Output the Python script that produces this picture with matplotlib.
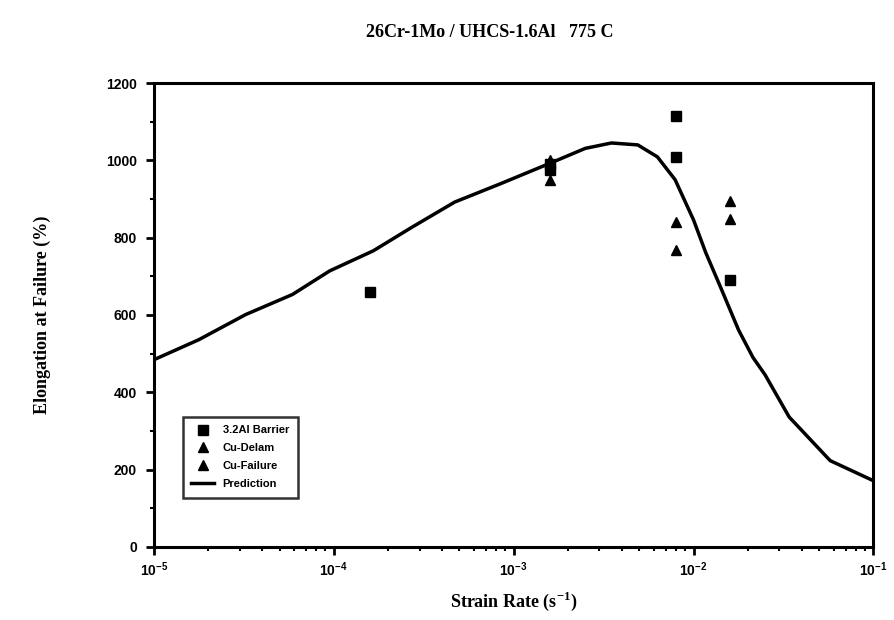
import matplotlib.pyplot as plt
import numpy as np
from matplotlib.ticker import MultipleLocator, LogLocator, NullFormatter

# prediction curve (strain rate, elongation %)
pred_rate = [1e-5, 1.78e-5, 3.24e-5, 5.9e-5, 9.5e-5, 1.66e-4, 2.7e-4, 4.7e-4,
             8.5e-4, 1.66e-3, 2.5e-3, 3.5e-3, 4.9e-3, 6.3e-3, 7.9e-3, 1e-2,
             1.17e-2, 1.41e-2, 1.78e-2, 2.14e-2, 2.5e-2, 3.4e-2, 5.75e-2, 0.1]
pred_elong = [484, 536, 601, 653, 714, 766, 826, 892,
              940, 996, 1031, 1045, 1040, 1009, 950, 846,
              761, 673, 561, 490, 445, 336, 223, 171]

barrier_rate = [1.6e-4, 1.6e-3, 1.6e-3, 8e-3, 8e-3, 1.6e-2]
barrier_elong = [660, 990, 975, 1115, 1010, 690]

delam_rate = [1.6e-3, 8e-3, 1.6e-2]
delam_elong = [1000, 840, 895]

failure_rate = [1.6e-3, 8e-3, 1.6e-2]
failure_elong = [950, 768, 848]

serif = 'Liberation Serif'
sans = 'Liberation Sans'

fig = plt.figure(figsize=(8.94, 6.2), dpi=100)
ax = fig.add_axes([0.172, 0.118, 0.805, 0.748])

ax.plot(pred_rate, pred_elong, color='black', lw=2.5, label='Prediction', zorder=2)
ax.plot(barrier_rate, barrier_elong, 's', color='black', ms=7, label='3.2Al Barrier', zorder=3)
ax.plot(delam_rate, delam_elong, '^', color='black', ms=7, label='Cu-Delam', zorder=3)
ax.plot(failure_rate, failure_elong, '^', color='black', ms=7, label='Cu-Failure', zorder=3)

ax.set_xscale('log')
ax.set_xlim(1e-5, 1e-1)
ax.set_ylim(0, 1200)
ax.yaxis.set_major_locator(MultipleLocator(200))
ax.yaxis.set_minor_locator(MultipleLocator(100))
ax.xaxis.set_major_locator(LogLocator(base=10, numticks=10))
ax.xaxis.set_minor_locator(LogLocator(base=10, subs=np.arange(2, 10), numticks=10))
ax.xaxis.set_minor_formatter(NullFormatter())

for s in ax.spines.values():
    s.set_linewidth(2.2)
ax.tick_params(which='major', direction='out', length=6, width=2, labelsize=10)
ax.tick_params(axis='y', which='major', pad=6)
ax.tick_params(which='minor', direction='out', length=3, width=1.5)
for lab in ax.get_xticklabels() + ax.get_yticklabels():
    lab.set_family(sans)
    lab.set_fontweight('bold')

handles, labels = ax.get_legend_handles_labels()
order = [1, 2, 3, 0]
leg = ax.legend([handles[i] for i in order], [labels[i] for i in order],
                loc='lower left', bbox_to_anchor=(0.04, 0.106),
                frameon=True, fancybox=False, borderaxespad=0,
                prop={'family': sans, 'size': 8, 'weight': 'bold'},
                handlelength=2.0, labelspacing=0.7, borderpad=0.8)
leg.get_frame().set_edgecolor('black')
leg.get_frame().set_linewidth(1.8)

fig.text(0.548, 0.948, '26Cr-1Mo / UHCS-1.6Al   775 C', ha='center', va='center',
         family=serif, fontweight='bold', fontsize=13)
ax.set_xlabel('Strain Rate (s$^{\\mathregular{-1}}$)', family=serif, fontweight='bold',
              fontsize=13, labelpad=8)
ax.set_ylabel('Elongation at Failure (%)', family=serif, fontweight='bold',
              fontsize=13, labelpad=40)

fig.savefig('out.png', dpi=100, facecolor='white')
